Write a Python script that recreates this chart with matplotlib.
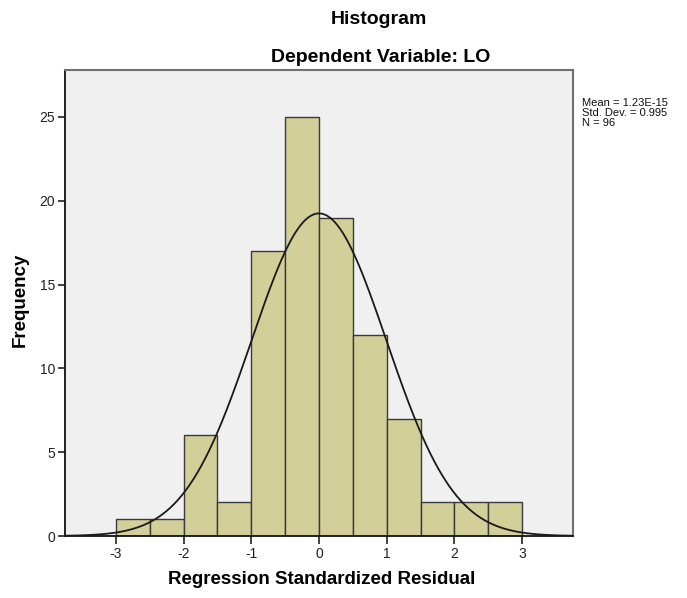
import numpy as np
import matplotlib
matplotlib.use("Agg")
import matplotlib.pyplot as plt

plt.rcParams['font.family'] = ['Liberation Sans', 'DejaVu Sans']

bin_edges = [-3.0, -2.5, -2.0, -1.5, -1.0, -0.5, 0.0, 0.5, 1.0, 1.5, 2.0, 2.5, 3.0]
counts = [1, 1, 6, 2, 17, 25, 19, 12, 7, 2, 2, 2]
mean = 1.23e-15
std = 0.995
n = 96
xticks = [-3, -2, -1, 0, 1, 2, 3]
yticks = [0, 5, 10, 15, 20, 25]

W, H = 687, 598
fig = plt.figure(figsize=(W / 100, H / 100), dpi=100)
ax = fig.add_axes([65 / W, 1 - 536 / H, (573 - 65) / W, (536 - 70) / H])
ax.set_facecolor('#F0F0F0')

edges = np.array(bin_edges)
widths = np.diff(edges)
ax.bar(edges[:-1], counts, width=widths, align='edge', color='#D3CF99',
       edgecolor='#3a3a3a', linewidth=1.0, zorder=2)

xs = np.linspace(-3.75, 3.75, 400)
bw = widths[0]
ys = n * bw / (std * np.sqrt(2 * np.pi)) * np.exp(-0.5 * ((xs - mean) / std) ** 2)
ax.plot(xs, ys, color='#1a1a1a', linewidth=1.3, zorder=3)

ax.set_xlim(-3.75, 3.75)
ax.set_ylim(0, 27.8)
ax.set_xticks(xticks)
ax.set_xticklabels([str(t) for t in xticks])
ax.set_yticks(yticks)
ax.set_yticklabels([str(t) for t in yticks])
ax.tick_params(axis='both', direction='out', length=6, width=1.2, labelsize=10,
               colors='#222222', pad=2)
ax.tick_params(axis='y', length=5)
for side in ['left', 'bottom']:
    ax.spines[side].set_color('#111111')
    ax.spines[side].set_linewidth(1.3)
for side in ['top', 'right']:
    ax.spines[side].set_color('#707070')
    ax.spines[side].set_linewidth(1.5)

fig.text(20 / W, 1 - 300 / H, 'Frequency', ha='center', va='center', rotation=90,
         fontsize=13.5, fontweight='bold')
fig.text(322 / W, 1 - 580 / H, 'Regression Standardized Residual', ha='center', va='center',
         fontsize=13.5, fontweight='bold')
fig.text(379 / W, 1 - 19 / H, 'Histogram', ha='center', va='center', fontsize=14, fontweight='bold')
fig.text(381 / W, 1 - 57 / H, 'Dependent Variable: LO', ha='center', va='center', fontsize=14, fontweight='bold')
fig.text(582 / W, 1 - 98 / H, 'Mean = 1.23E-15\nStd. Dev. = 0.995\nN = 96', ha='left', va='top',
         fontsize=8, linespacing=1.0, color='#111111')

fig.savefig('out.png', dpi=100, facecolor='white')
